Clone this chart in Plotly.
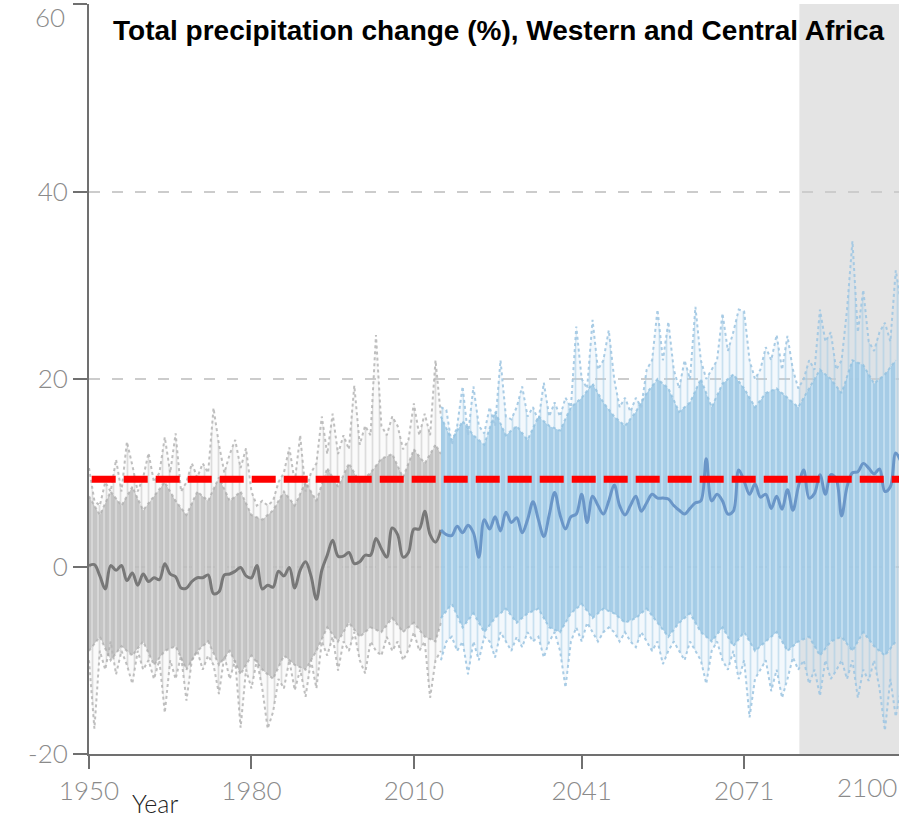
import plotly.graph_objects as go

# ---------------- data ----------------
TITLE = "Total precipitation change (%), Western and Central Africa"
X_TITLE = "Year"
X_TICKS = [1950, 1980, 2010, 2041, 2071]
X_LAST_LABEL = "2100"
Y_TICKS = [-20, 0, 20, 40, 60]
Y_TOP_LABEL = "60"
THRESHOLD = 9.3
SHADE_START = 2081.2
X_MIN, X_MAX = 1950, 2099.6
Y_MIN, Y_MAX = -20, 60

# historical ensemble median, 1950..2015
HIST_START = 1950
hist_median = [
    0.1, 0.2, -1.0, -2.4, 0.1, -0.4, 0.1, -1.5, -0.7, -2.0,
    -0.8, -1.6, -1.2, -1.4, 0.3, -0.8, -1.1, -2.3, -2.3, -1.6,
    -1.2, -1.2, -0.9, -2.9, -2.7, -0.9, -0.8, -0.5, -0.1, -1.0,
    -1.2, 0.1, -2.4, -2.0, -2.2, -0.5, -1.0, -0.1, -2.3, -0.4,
    0.5, -1.0, -3.5, -0.4, 1.2, 2.8, 1.1, 1.1, 1.5, 0.3,
    0.5, 1.2, 1.2, 3.0, 1.9, 1.0, 4.1, 3.4, 1.0, 1.5,
    4.0, 4.0, 5.9, 3.4, 2.6, 3.9,
]
# historical ensemble maximum / minimum, 1950..2015
hist_max = [
    10.5, 7.0, 6.5, 9.0, 8.0, 11.4, 8.0, 13.3, 10.8, 8.0,
    9.5, 12.1, 9.0, 10.0, 13.8, 10.0, 14.2, 8.0, 9.0, 11.0,
    9.5, 11.0, 10.0, 16.9, 13.0, 10.0, 12.0, 13.5, 10.5, 12.6,
    8.0, 6.5, 7.0, 6.5, 7.0, 9.0, 10.0, 12.7, 9.0, 14.0,
    8.0, 10.0, 11.0, 16.0, 12.0, 16.3, 12.0, 14.0, 12.5, 19.3,
    13.0, 15.0, 14.0, 24.7, 15.0, 14.0, 16.0, 15.0, 12.5, 13.5,
    17.4, 14.0, 16.3, 14.0, 22.0, 16.0,
]
hist_min = [
    -10.0, -17.3, -9.0, -11.0, -8.0, -11.5, -9.0, -10.5, -12.5, -9.0,
    -11.0, -10.0, -12.0, -10.0, -15.6, -10.0, -12.0, -9.5, -14.3, -10.0,
    -9.0, -11.0, -9.5, -10.5, -13.6, -9.5, -12.0, -10.0, -17.2, -11.0,
    -13.0, -10.0, -13.0, -17.3, -15.5, -12.0, -13.0, -10.0, -13.2, -11.0,
    -13.9, -10.0, -13.0, -8.0, -9.5, -7.5, -11.1, -8.0, -9.0, -7.0,
    -10.0, -11.4, -8.0, -9.0, -9.5, -7.5, -9.0, -8.0, -10.0, -8.9,
    -7.0, -9.0, -8.0, -14.0, -10.0, -9.0,
]
# historical dense core of the ensemble
hist_core_years = [1950, 1952, 1954, 1956, 1958, 1960, 1962, 1964, 1966, 1968, 1970, 1972,
                   1974, 1976, 1978, 1980, 1982, 1984, 1986, 1988, 1990, 1992, 1994, 1996,
                   1998, 2000, 2002, 2004, 2006, 2008, 2010, 2012, 2014, 2015]
hist_core_hi = [7.5, 5.5, 8.0, 6.5, 8.5, 6.0, 7.5, 9.0, 7.0, 5.5, 8.0, 7.0, 9.5, 7.0, 8.0, 5.5,
                5.0, 6.0, 8.0, 6.5, 9.0, 7.0, 10.5, 8.5, 11.0, 9.0, 10.0, 11.5, 12.0, 9.5,
                12.5, 11.0, 13.0, 12.0]
hist_core_lo = [-9.0, -7.5, -10.0, -8.5, -9.5, -8.0, -10.5, -9.0, -8.5, -11.0, -9.0, -8.0,
                -10.5, -9.0, -11.5, -9.5, -11.0, -12.0, -9.5, -10.5, -11.0, -9.0, -6.5, -8.0,
                -6.0, -7.5, -6.5, -7.0, -5.5, -7.0, -6.0, -7.5, -8.0, -6.0]

# projected ensemble median / max / min, 2015..2100
PROJ_START = 2015
proj_median = [
    3.9, 3.4, 3.3, 4.3, 3.6,
    4.4, 3.6, 1.0, 5.0, 4.0, 5.3, 3.8, 5.8, 4.7, 5.2,
    3.6, 5.0, 6.9, 5.0, 3.2, 5.5, 7.9, 5.5, 4.0, 5.3,
    5.6, 7.7, 4.7, 7.5, 6.5, 5.6, 7.0, 8.7, 6.5, 5.5,
    6.5, 7.5, 5.9, 6.8, 7.7, 7.3, 7.3, 7.2, 6.5, 6.0,
    5.6, 6.2, 6.8, 7.0, 11.5, 7.0, 7.7, 7.0, 5.6, 5.9,
    10.3, 9.1, 7.7, 8.8, 7.4, 7.7, 6.2, 7.5, 6.1, 8.2,
    6.0, 8.5, 10.3, 7.3, 7.8, 9.8, 7.7, 9.8, 9.3, 5.4,
    8.5, 10.0, 10.1, 11.0, 10.5, 9.9, 10.4, 8.0, 8.5, 12.1, 11.1,
]
proj_max = [
    17.0, 16.7, 13.0, 15.0, 19.2,
    14.0, 19.2, 15.0, 14.2, 17.0, 15.0, 22.0, 16.0, 15.7, 17.0,
    19.2, 16.0, 17.0, 15.5, 19.6, 16.0, 17.5, 16.0, 18.0, 17.0,
    25.6, 20.0, 19.0, 26.3, 21.0, 22.0, 25.2, 20.0, 17.0, 18.0,
    16.5, 18.0, 17.0, 21.0, 22.0, 27.4, 22.0, 26.1, 21.0, 19.0,
    22.0, 20.0, 27.7, 22.0, 20.0, 21.0, 22.0, 27.0, 23.0, 25.0,
    27.4, 27.2, 22.0, 20.0, 21.0, 23.4, 22.0, 24.7, 21.0, 24.6,
    21.0, 19.0, 20.0, 22.0, 21.0, 27.4, 24.0, 25.0, 21.0, 22.0,
    27.4, 34.7, 25.0, 29.5, 24.0, 23.0, 25.0, 26.0, 24.0, 31.6, 28.0,
]
proj_min = [
    -10.0, -8.0, -7.5, -9.0, -8.0,
    -11.5, -8.0, -10.0, -7.5, -8.0, -9.7, -7.0, -8.0, -9.0, -7.5,
    -8.6, -7.0, -8.0, -7.5, -9.7, -8.0, -7.0, -9.0, -12.9, -8.0,
    -6.5, -8.0, -6.0, -7.0, -8.0, -7.0, -6.5, -7.0, -8.0, -7.0,
    -8.0, -8.6, -7.0, -8.0, -9.0, -8.0, -10.4, -9.0, -8.0, -9.0,
    -10.0, -8.0, -9.0, -10.0, -12.5, -9.0, -8.0, -10.0, -11.0, -9.0,
    -12.0, -10.0, -16.1, -12.0, -11.0, -10.0, -13.3, -11.0, -14.0, -12.0,
    -9.7, -11.0, -10.0, -12.5, -11.0, -13.8, -10.0, -12.0, -11.1, -10.0,
    -12.0, -10.0, -14.0, -11.0, -12.2, -10.0, -13.0, -17.5, -12.0, -16.0, -13.0,
]
# projected dense core, every 2 years 2015..2099
proj_core_hi = [16.0, 13.5, 15.5, 14.0, 13.0, 16.5, 14.0, 15.0, 13.5, 16.0, 15.0, 14.5,
                17.0, 18.0, 19.5, 17.5, 16.0, 15.0, 16.5, 18.5, 20.0, 19.0, 16.5, 17.5,
                20.0, 17.0, 19.5, 20.5, 19.0, 17.0, 18.5, 19.0, 18.0, 17.0, 19.0, 21.0,
                20.0, 18.5, 22.0, 21.5, 19.5, 20.5, 22.0]
proj_core_lo = [-5.5, -4.0, -6.5, -5.0, -7.0, -5.5, -4.5, -6.0, -5.0, -4.5, -6.5, -7.0,
                -5.0, -4.0, -5.5, -4.5, -5.0, -6.0, -5.5, -4.5, -6.0, -7.5, -6.0, -5.0,
                -7.0, -8.0, -6.5, -8.5, -7.0, -9.0, -8.0, -7.0, -9.0, -8.0, -7.5, -9.5,
                -8.0, -7.5, -9.0, -7.0, -8.5, -9.5, -8.0]

# ---------------- figure ----------------
AXIS_COLOR = "#707070"
TICK_COLOR = "#8a8a8a"
THIN_FONT = dict(family="Lato, 'Open Sans', sans-serif", size=26, color=TICK_COLOR, weight=300)

hist_years = list(range(HIST_START, HIST_START + len(hist_median)))
hist_env_years = list(range(HIST_START, HIST_START + len(hist_max)))
proj_years = list(range(PROJ_START, PROJ_START + len(proj_median)))
proj_core_years = list(range(PROJ_START, PROJ_START + 2 * len(proj_core_hi), 2))

fig = go.Figure()


def band(xs, hi, lo, color, stripe, stripe_size, solidity):
    fig.add_trace(go.Scatter(
        x=list(xs) + list(xs)[::-1], y=list(hi) + list(lo)[::-1],
        fill="toself", fillcolor=color, line=dict(width=0),
        fillpattern=dict(shape="|", fgcolor=stripe, bgcolor=color,
                         size=stripe_size, solidity=solidity, fillmode="replace"),
        mode="lines", hoverinfo="skip", showlegend=False))


def dotted(xs, ys, color, width=2):
    fig.add_trace(go.Scatter(
        x=xs, y=ys, mode="lines", line=dict(color=color, width=width, dash="3px,3px"),
        hoverinfo="skip", showlegend=False))


# historical cloud
band(hist_env_years, hist_max, hist_min, "rgba(215,215,215,0.12)", "rgba(190,190,190,0.5)", 7, 0.25)
band(hist_core_years, hist_core_hi, hist_core_lo, "rgba(188,188,188,0.85)", "rgba(218,218,218,0.9)", 6, 0.3)
dotted(hist_env_years, hist_max, "rgba(180,180,180,0.85)")
dotted(hist_env_years, hist_min, "rgba(180,180,180,0.85)")
dotted(hist_core_years, hist_core_hi, "rgba(170,170,170,0.7)")
dotted(hist_core_years, hist_core_lo, "rgba(170,170,170,0.7)")

# projected cloud
band(proj_years, proj_max, proj_min, "rgba(190,218,238,0.18)", "rgba(165,203,230,0.55)", 7, 0.25)
band(proj_core_years, proj_core_hi, proj_core_lo, "rgba(160,202,230,0.9)", "rgba(200,225,242,0.9)", 6, 0.3)
dotted(proj_years, proj_max, "rgba(160,198,226,0.9)")
dotted(proj_years, proj_min, "rgba(160,198,226,0.9)")
dotted(proj_core_years, proj_core_hi, "rgba(145,192,224,0.8)")
dotted(proj_core_years, proj_core_lo, "rgba(145,192,224,0.8)")

# medians
fig.add_trace(go.Scatter(x=hist_years, y=hist_median, mode="lines",
                         line=dict(color="#787878", width=3, shape="spline", smoothing=1.0),
                         hoverinfo="skip", showlegend=False))
fig.add_trace(go.Scatter(x=proj_years, y=proj_median, mode="lines",
                         line=dict(color="#6a96c8", width=3, shape="spline", smoothing=1.0),
                         hoverinfo="skip", showlegend=False))

# threshold
fig.add_trace(go.Scatter(x=[X_MIN + 0.5, X_MAX], y=[THRESHOLD, THRESHOLD], mode="lines",
                         line=dict(color="#ff0000", width=7, dash="24px,8px"),
                         hoverinfo="skip", showlegend=False))

fig.add_shape(type="rect", xref="x", yref="y", x0=SHADE_START, x1=X_MAX, y0=Y_MIN, y1=Y_MAX,
              fillcolor="#e4e4e4", line=dict(width=0), layer="below")

fig.add_annotation(text=f"<b>{TITLE}</b>", xref="paper", yref="paper", x=0.506, y=0.965,
                   xanchor="center", yanchor="middle", showarrow=False,
                   font=dict(family="'Liberation Sans Narrow', 'Arial Narrow', 'Liberation Sans', sans-serif",
                             size=28, color="#000000"))
fig.add_annotation(text=X_TITLE, xref="paper", yref="paper", x=0.0815, y=-0.065,
                   xanchor="center", yanchor="middle", showarrow=False,
                   font=dict(family="Lato, 'Open Sans', sans-serif", size=25, color="#222222", weight=300))
fig.add_annotation(text=X_LAST_LABEL, xref="paper", yref="paper", x=1.0, y=-0.044,
                   xanchor="right", yanchor="middle", showarrow=False, font=THIN_FONT)
fig.add_annotation(text=Y_TOP_LABEL, xref="paper", yref="paper", x=-0.027, y=0.983,
                   xanchor="right", yanchor="middle", showarrow=False, font=THIN_FONT)

fig.update_layout(
    width=899, height=817,
    margin=dict(l=89, r=0, t=4, b=63),
    paper_bgcolor="white", plot_bgcolor="white",
    showlegend=False,
    xaxis=dict(range=[X_MIN, X_MAX], tickvals=X_TICKS, ticktext=[str(v) for v in X_TICKS],
               ticks="outside", ticklen=13, tickwidth=2, tickcolor=AXIS_COLOR,
               showline=True, linecolor=AXIS_COLOR, linewidth=2,
               showgrid=False, zeroline=False, tickfont=THIN_FONT, automargin=False),
    yaxis=dict(range=[Y_MIN, Y_MAX], tickvals=Y_TICKS,
               ticktext=["" if v == Y_MAX else str(v) for v in Y_TICKS],
               ticks="outside", ticklen=14, tickwidth=2, tickcolor=AXIS_COLOR,
               showline=True, linecolor=AXIS_COLOR, linewidth=2,
               showgrid=True, gridcolor="#cccccc", gridwidth=2, griddash="11px,12px",
               zeroline=False, tickfont=THIN_FONT, automargin=False),
)

fig.write_html("out.html", config={"displayModeBar": False},
               post_script="document.body.style.margin='0';")
